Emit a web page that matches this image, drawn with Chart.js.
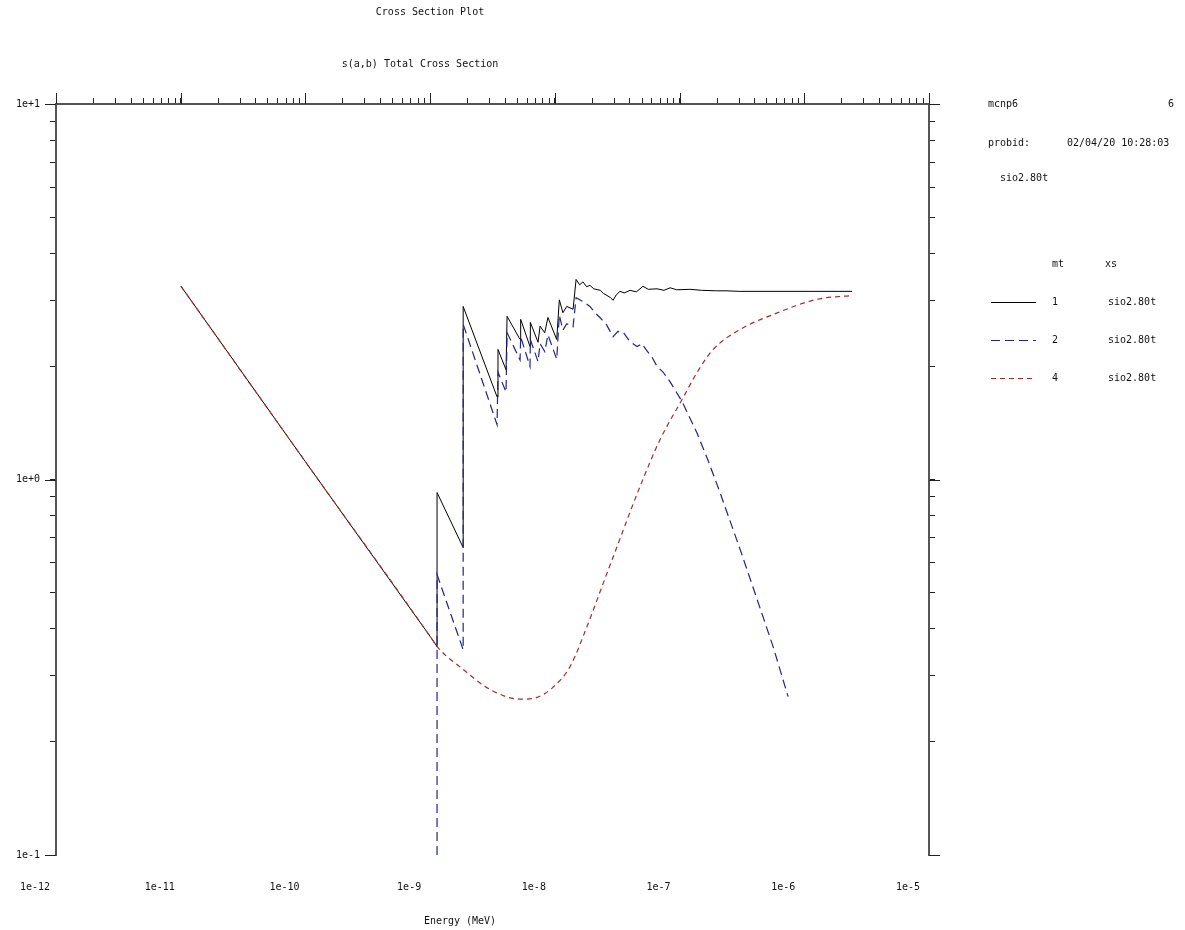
<!DOCTYPE html>
<html>
<head>
<meta charset="utf-8">
<title>Cross Section Plot</title>
<script src="https://cdn.jsdelivr.net/npm/chart.js@4/dist/chart.umd.min.js"></script>
<style>
  html, body { margin: 0; padding: 0; background: #fff; }
  canvas { display: block; }
</style>
</head>
<body>
<canvas id="xs-plot" width="1185" height="930"></canvas>
<script>
// axis decades and their labels
const xDecades = [1e-12, 1e-11, 1e-10, 1e-9, 1e-8, 1e-7, 1e-6, 1e-5];
const xTickLabels = ['1e-12', '1e-11', '1e-10', '1e-9', '1e-8', '1e-7', '1e-6', '1e-5'];
const yDecades = [0.1, 1, 10];
const yTickLabels = ['1e-1', '1e+0', '1e+1'];

// mt 1 - total (black)
const mt1Energy = [1.005e-11, 1e-10, 1e-9, 1.136e-9, 1.136e-9, 1.84e-9, 1.84e-9, 3.44e-9, 3.50e-9, 4.06e-9,
  4.14e-9, 5.26e-9, 5.32e-9, 6.32e-9, 6.36e-9, 7.33e-9, 7.61e-9, 8.3e-9, 8.8e-9, 1.035e-8,
  1.086e-8, 1.16e-8, 1.245e-8, 1.40e-8, 1.48e-8, 1.58e-8, 1.68e-8, 1.80e-8, 1.91e-8, 2.05e-8,
  2.31e-8, 2.45e-8, 2.62e-8, 2.80e-8, 2.93e-8, 3.1e-8, 3.33e-8, 3.6e-8, 4.01e-8, 4.5e-8,
  5.09e-8, 5.6e-8, 6.6e-8, 7.5e-8, 8.4e-8, 9.5e-8, 1.21e-7, 1.5e-7, 2.0e-7, 2.4e-7,
  3.0e-7, 2.42e-6];
const mt1XS = [3.27, 1.115, 0.382, 0.359, 0.923, 0.659, 2.89, 1.66, 2.22, 1.96,
  2.72, 2.36, 2.67, 2.26, 2.62, 2.32, 2.56, 2.46, 2.70, 2.36,
  3.01, 2.78, 2.89, 2.84, 3.41, 3.30, 3.36, 3.26, 3.29, 3.22,
  3.19, 3.13, 3.09, 3.05, 3.00, 3.10, 3.17, 3.14, 3.19, 3.16,
  3.27, 3.21, 3.22, 3.19, 3.24, 3.20, 3.21, 3.19, 3.18, 3.18,
  3.17, 3.17];

// mt 2 (blue dashed)
const mt2Energy = [1.136e-9, 1.136e-9, 1.84e-9, 1.84e-9, 3.44e-9, 3.50e-9, 4.06e-9, 4.14e-9, 5.26e-9, 5.32e-9,
  6.32e-9, 6.36e-9, 7.33e-9, 7.61e-9, 8.3e-9, 8.8e-9, 1.035e-8, 1.086e-8, 1.16e-8, 1.245e-8,
  1.40e-8, 1.48e-8, 1.68e-8, 1.91e-8, 2.1e-8, 2.30e-8, 2.6e-8, 2.93e-8, 3.2e-8, 3.52e-8,
  4.0e-8, 4.56e-8, 5.0e-8, 5.48e-8, 6.0e-8, 6.6e-8, 7.4e-8, 8.4e-8, 1.05e-7, 1.38e-7,
  1.7e-7, 2.11e-7, 3.06e-7, 4.19e-7, 5.62e-7, 7.42e-7];
const mt2XS = [0.1, 0.558, 0.352, 2.59, 1.40, 1.93, 1.71, 2.46, 2.08, 2.40,
  2.00, 2.36, 2.06, 2.30, 2.19, 2.43, 2.09, 2.74, 2.50, 2.60,
  2.55, 3.05, 2.98, 2.89, 2.78, 2.70, 2.58, 2.40, 2.48, 2.47,
  2.33, 2.26, 2.30, 2.20, 2.12, 2.00, 1.93, 1.82, 1.61, 1.33,
  1.12, 0.923, 0.651, 0.479, 0.359, 0.264];

// mt 4 (red short dashes)
const mt4Energy = [1.005e-11, 1e-10, 1e-9, 1.136e-9, 1.84e-9, 3.02e-9, 5.26e-9, 7.2e-9, 9.69e-9, 1.32e-8,
  1.81e-8, 2.39e-8, 2.88e-8, 4.82e-8, 6.98e-8, 1.047e-7, 1.38e-7, 1.86e-7, 3.06e-7, 5.62e-7,
  1.27e-6, 2.42e-6];
const mt4XS = [3.27, 1.115, 0.382, 0.359, 0.312, 0.276, 0.260, 0.263, 0.280, 0.317,
  0.406, 0.519, 0.612, 0.958, 1.278, 1.633, 1.927, 2.22, 2.51, 2.75,
  3.02, 3.09];

const mono = '"DejaVu Sans Mono", "Liberation Mono", monospace';
const axisGray = '#555';
const blue = '#23238f';
const red = '#a52a2a';

const toPoints = (xs, ys) => xs.map((x, i) => ({ x: x, y: ys[i] }));

// log ticks 1..9 per decade
function decadeTicks(lo, hi) {
  const out = [];
  for (let e = lo; e < hi; e++) {
    for (let m = 1; m < 10; m++) out.push({ value: m * Math.pow(10, e) });
  }
  out.push({ value: Math.pow(10, hi) });
  return out;
}

function labelFor(value, decades, labels) {
  const i = decades.findIndex(d => Math.abs(Math.log10(value) - Math.log10(d)) < 1e-6);
  return i < 0 ? '' : labels[i];
}

const plotText = {
  id: 'plotText',
  afterDraw(chart) {
    const ctx = chart.ctx;
    const { xTop, y, yRight } = chart.scales;
    ctx.save();

    // longer ticks at the decades
    ctx.strokeStyle = '#222';
    ctx.lineWidth = 1;
    ctx.beginPath();
    xDecades.forEach(v => {
      const px = Math.round(xTop.getPixelForValue(v)) + 0.5;
      ctx.moveTo(px, xTop.bottom);
      ctx.lineTo(px, xTop.bottom - 11);
    });
    yDecades.forEach(v => {
      const py = Math.round(y.getPixelForValue(v)) + 0.5;
      ctx.moveTo(y.right, py);
      ctx.lineTo(y.right - 11, py);
      ctx.moveTo(yRight.left, py);
      ctx.lineTo(yRight.left + 11, py);
    });
    ctx.stroke();

    ctx.fillStyle = '#111';
    ctx.font = '10px ' + mono;
    ctx.textBaseline = 'middle';
    ctx.textAlign = 'center';
    ctx.fillText('Cross Section Plot', 430, 12);
    ctx.fillText('s(a,b) Total Cross Section', 420, 64);
    ctx.fillText('Energy (MeV)', 460, 921);

    ctx.textAlign = 'left';
    ctx.fillText('mcnp6', 988, 104);
    ctx.fillText('6', 1168, 104);
    ctx.fillText('probid:', 988, 143);
    ctx.fillText('02/04/20 10:28:03', 1067, 143);
    ctx.fillText('sio2.80t', 1000, 178);

    // legend
    ctx.fillText('mt', 1052, 264);
    ctx.fillText('xs', 1105, 264);
    const rows = [
      { mt: '1', color: '#000', dash: [], y: 302 },
      { mt: '2', color: blue, dash: [9, 5], y: 340 },
      { mt: '4', color: red, dash: [5, 4], y: 378 }
    ];
    rows.forEach(r => {
      ctx.save();
      ctx.strokeStyle = r.color;
      ctx.lineWidth = 1.2;
      ctx.setLineDash(r.dash);
      ctx.beginPath();
      ctx.moveTo(991, r.y + 0.5);
      ctx.lineTo(1036, r.y + 0.5);
      ctx.stroke();
      ctx.restore();
      ctx.fillText(r.mt, 1052, r.y);
      ctx.fillText('sio2.80t', 1108, r.y);
    });
    ctx.restore();
  }
};

const tickFont = { family: mono, size: 10 };

new Chart(document.getElementById('xs-plot'), {
  type: 'line',
  data: {
    datasets: [
      {
        label: '4',
        data: toPoints(mt4Energy, mt4XS),
        borderColor: red,
        borderWidth: 1.2,
        borderDash: [5, 4],
        pointRadius: 0,
        cubicInterpolationMode: 'monotone',
        xAxisID: 'x',
        yAxisID: 'y'
      },
      {
        label: '2',
        data: toPoints(mt2Energy, mt2XS),
        borderColor: blue,
        borderWidth: 1.2,
        borderDash: [9, 5],
        pointRadius: 0,
        xAxisID: 'x',
        yAxisID: 'y'
      },
      {
        label: '1',
        data: toPoints(mt1Energy, mt1XS),
        borderColor: '#000',
        borderWidth: 1,
        pointRadius: 0,
        xAxisID: 'x',
        yAxisID: 'y'
      }
    ]
  },
  options: {
    responsive: false,
    animation: false,
    devicePixelRatio: 1,
    layout: { padding: 0 },
    plugins: { legend: { display: false }, tooltip: { enabled: false } },
    scales: {
      x: {
        type: 'logarithmic',
        position: 'bottom',
        min: 1e-12,
        max: 1e-5,
        afterBuildTicks: s => { s.ticks = decadeTicks(-12, -5); },
        afterFit: s => { s.height = 75; },
        grid: { display: false, drawTicks: false },
        border: { display: false },
        ticks: {
          autoSkip: false,
          maxRotation: 0,
          padding: 26,
          labelOffset: -21,
          color: '#111',
          font: tickFont,
          callback: v => labelFor(v, xDecades, xTickLabels)
        }
      },
      xTop: {
        type: 'logarithmic',
        position: 'top',
        min: 1e-12,
        max: 1e-5,
        afterBuildTicks: s => { s.ticks = decadeTicks(-12, -5); },
        afterFit: s => { s.height = 104; },
        grid: { drawOnChartArea: false, drawTicks: true, tickLength: 6, tickColor: '#222' },
        border: { display: true, color: axisGray, width: 2 },
        ticks: { display: false }
      },
      y: {
        type: 'logarithmic',
        position: 'left',
        min: 0.1,
        max: 10,
        afterBuildTicks: s => { s.ticks = decadeTicks(-1, 1); },
        afterFit: s => { s.width = 56; },
        grid: { drawOnChartArea: false, drawTicks: true, tickLength: 6, tickColor: '#222' },
        border: { display: true, color: axisGray, width: 2 },
        ticks: {
          autoSkip: false,
          padding: 10,
          color: '#111',
          font: tickFont,
          callback: v => labelFor(v, yDecades, yTickLabels)
        }
      },
      yRight: {
        type: 'logarithmic',
        position: 'right',
        min: 0.1,
        max: 10,
        afterBuildTicks: s => { s.ticks = decadeTicks(-1, 1); },
        afterFit: s => { s.width = 256; },
        grid: { drawOnChartArea: false, drawTicks: true, tickLength: 6, tickColor: '#222' },
        border: { display: true, color: axisGray, width: 2 },
        ticks: { display: false }
      }
    }
  },
  plugins: [plotText]
});
</script>
</body>
</html>
